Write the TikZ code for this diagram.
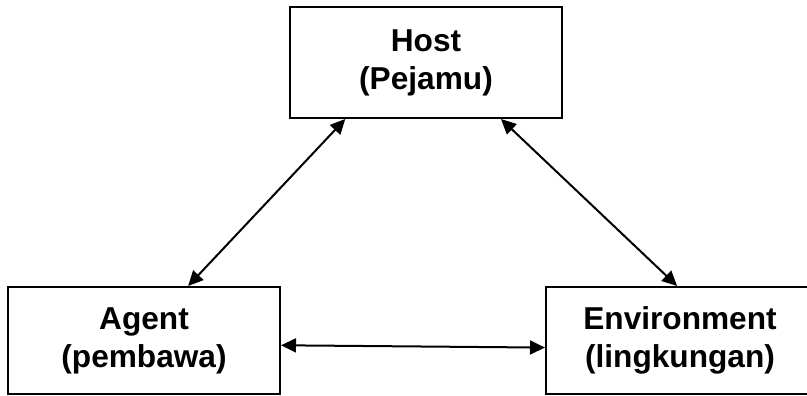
\documentclass[tikz,border=0pt]{standalone}
\usepackage{fontspec}
\setmainfont{Liberation Sans}
\usetikzlibrary{arrows.meta}

\tikzset{
  faktor/.style={draw, line width=0.06cm, align=center, font=\fontsize{27}{32.5}\selectfont\bfseries},
  relasi/.style={line width=0.06cm, {Triangle[length=0.45cm,width=0.42cm]}-{Triangle[length=0.45cm,width=0.42cm]}}
}

\begin{document}
\begin{tikzpicture}[x=0.03cm, y=-0.03cm]
		\useasboundingbox (0,0) rectangle (807,396);
		% the three factors
		\node[faktor, minimum width=8.16cm, minimum height=3.33cm] (host) at (426,62.5) {Host\\(Pejamu)};
		\node[faktor, minimum width=8.16cm, minimum height=3.21cm] (agent) at (144,340.5) {Agent\\(pembawa)};
		\node[faktor, minimum width=8.04cm, minimum height=3.21cm] (env) at (680,340.5) {Environment\\(lingkungan)};
		
		% two-way links
		\draw[relasi] (host.215) -- (agent.51);
		\draw[relasi] (host.323) -- (env.93);
		\draw[relasi] (agent.-2) -- (env.183);
		\end{tikzpicture}
\end{document}
